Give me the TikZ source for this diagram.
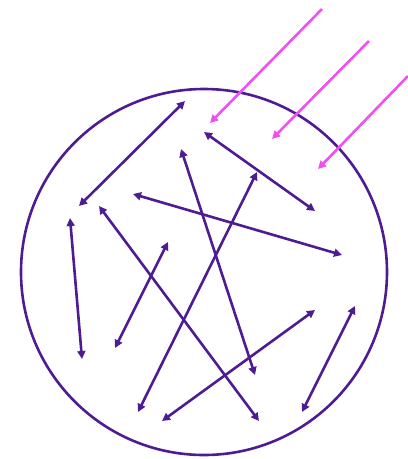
\documentclass[tikz,border=0pt]{standalone}
\usetikzlibrary{arrows.meta}
\definecolor{vio}{RGB}{78,28,146}
\definecolor{mag}{RGB}{240,80,240}
\tikzset{
  dbl/.style={draw=vio, line width=2.6pt, {Triangle[length=8pt,width=8pt]}-{Triangle[length=8pt,width=8pt]}},
  ray/.style={draw=mag, line width=2.6pt, -{Triangle[length=8pt,width=8pt]}},
  ring/.style={draw=vio, line width=2.6pt}
}
\begin{document}
\begin{tikzpicture}[x=1pt,y=-1pt]
\useasboundingbox (0,0) rectangle (408,459);
\node[ring, circle, minimum size=366pt, inner sep=0pt] (cell) at (204,272) {};
% pink rays
\coordinate (p1s) at (322,9);   \coordinate (p1e) at (210,123);
\coordinate (p2s) at (369,41);  \coordinate (p2e) at (272,139);
\coordinate (p3s) at (408,76);  \coordinate (p3e) at (318,169);
\draw[ray] (p1s) -- (p1e);
\draw[ray] (p2s) -- (p2e);
\draw[ray] (p3s) -- (p3e);
% purple double arrows
\coordinate (a1) at (185,101); \coordinate (a2) at (79,206);
\coordinate (b1) at (204,132); \coordinate (b2) at (315,211);
\coordinate (c1) at (181,149); \coordinate (c2) at (255,375);
\coordinate (d1) at (257,172); \coordinate (d2) at (138,412);
\coordinate (e1) at (133,194); \coordinate (e2) at (342,255);
\coordinate (f1) at (99,206);  \coordinate (f2) at (259,421);
\coordinate (g1) at (70,218);  \coordinate (g2) at (82,359);
\coordinate (h1) at (168,242); \coordinate (h2) at (115,348);
\coordinate (i1) at (315,310); \coordinate (i2) at (162,421);
\coordinate (j1) at (355,306); \coordinate (j2) at (302,412);
\draw[dbl] (a1) -- (a2);
\draw[dbl] (b1) -- (b2);
\draw[dbl] (c1) -- (c2);
\draw[dbl] (d1) -- (d2);
\draw[dbl] (e1) -- (e2);
\draw[dbl] (f1) -- (f2);
\draw[dbl] (g1) -- (g2);
\draw[dbl] (h1) -- (h2);
\draw[dbl] (i1) -- (i2);
\draw[dbl] (j1) -- (j2);
\end{tikzpicture}
\end{document}
